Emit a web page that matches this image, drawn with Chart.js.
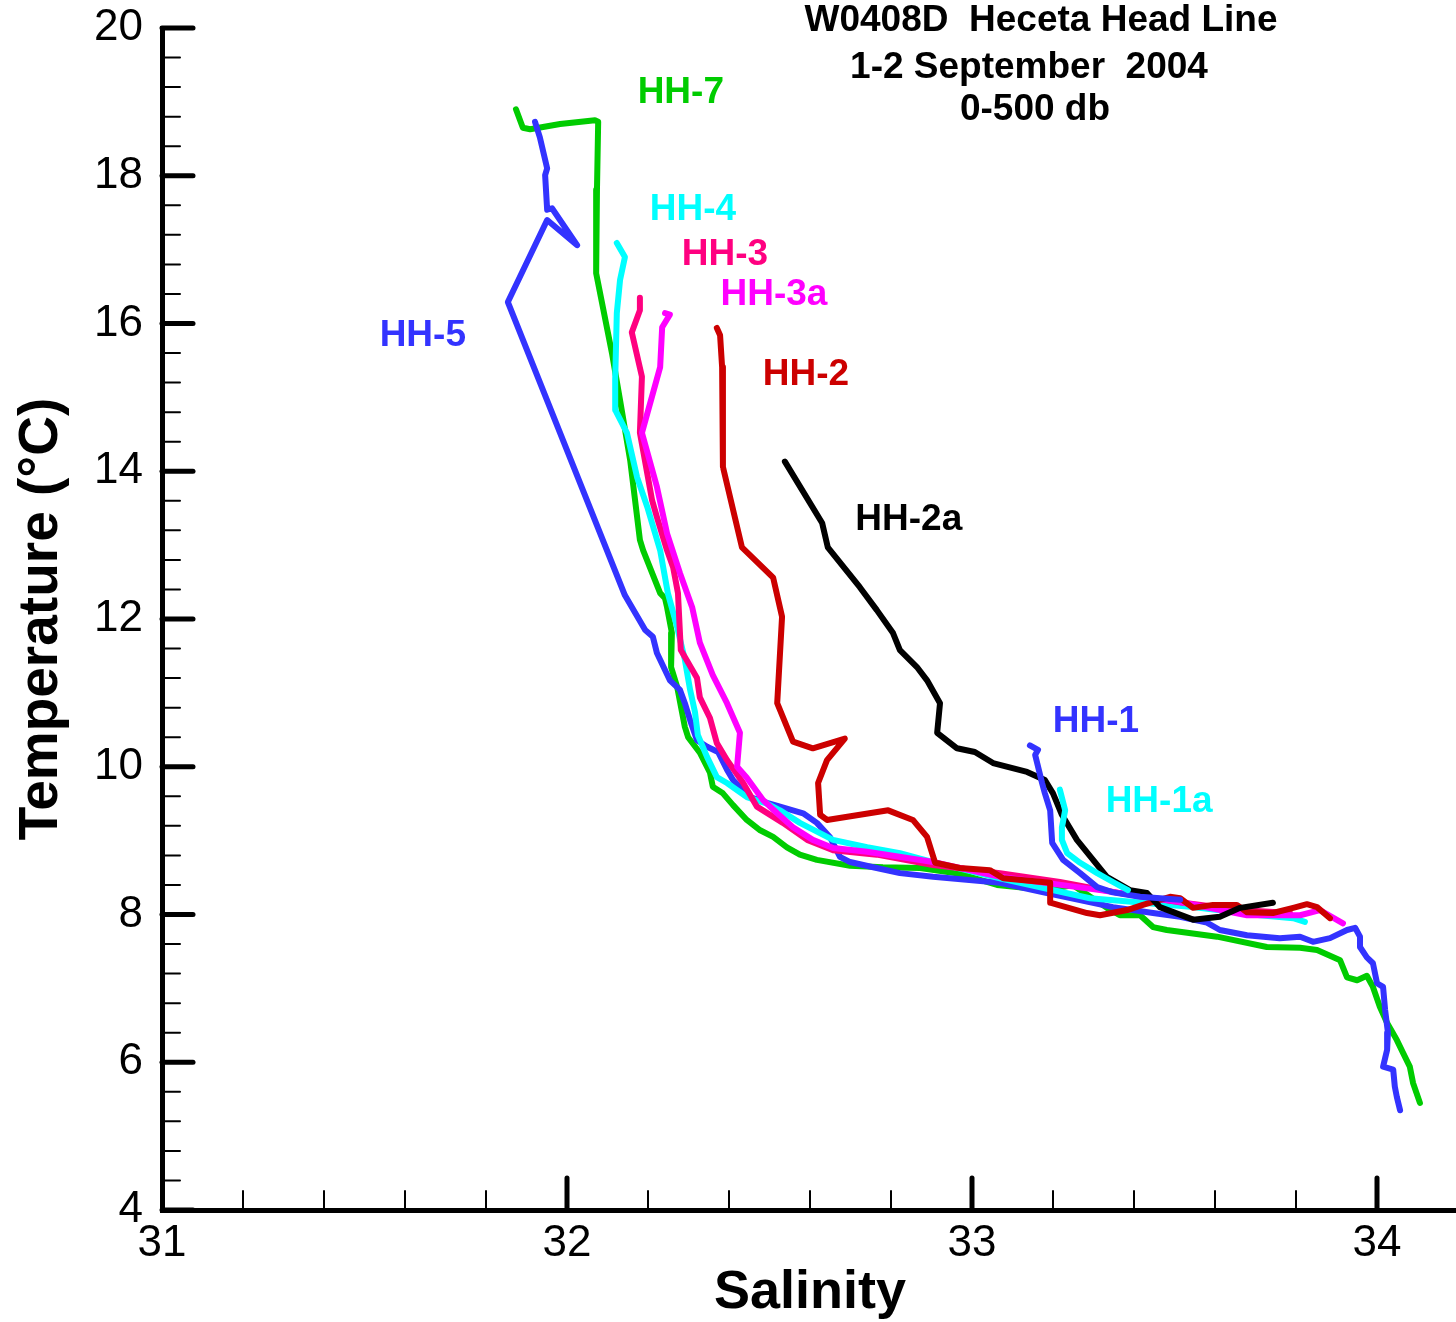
<!DOCTYPE html>
<html>
<head>
<meta charset="utf-8">
<title>W0408D Heceta Head Line T-S</title>
<script src="https://cdn.jsdelivr.net/npm/chart.js@4.4.1/dist/chart.umd.min.js"></script>
<style>
  html, body { margin: 0; padding: 0; background: #fff; overflow: hidden; }
  #wrap { width: 1462px; height: 1322px; }
</style>
</head>
<body>
<div id="wrap"><canvas id="tsChart" width="1462" height="1322"></canvas></div>
<script>
// T-S curves, 0-500 db
const salinityTicks = [31, 32, 33, 34];
const temperatureTicks = [4, 6, 8, 10, 12, 14, 16, 18, 20];

const hh7Sal = [31.874,31.891,31.909,31.983,32.069,32.077,32.074,32.072,32.111,32.131,32.156,32.180,32.188,32.230,32.242,32.247,32.259,32.257,32.272,32.291,32.299,32.328,32.353,32.360,32.385,32.410,32.444,32.477,32.509,32.543,32.575,32.617,32.699,32.780,32.872,32.970,33.062,33.185,33.249,33.267,33.333,33.365,33.415,33.447,33.481,33.605,33.728,33.810,33.852,33.909,33.926,33.951,33.975,33.990,34.007,34.025,34.049,34.064,34.081,34.089,34.106];
const hh7Temp = [18.90,18.65,18.63,18.70,18.75,18.73,17.81,16.68,15.60,14.96,14.15,13.07,12.93,12.35,12.28,12.16,11.81,11.35,11.08,10.54,10.40,10.19,9.92,9.73,9.64,9.48,9.28,9.14,9.05,8.91,8.81,8.74,8.66,8.64,8.63,8.55,8.40,8.33,8.40,8.33,8.09,7.99,7.99,7.83,7.79,7.70,7.56,7.55,7.52,7.38,7.15,7.11,7.17,7.02,6.75,6.53,6.30,6.13,5.94,5.72,5.45];

const hh5Sal = [31.921,31.933,31.951,31.946,31.951,31.963,32.025,31.951,31.854,32.143,32.193,32.212,32.222,32.254,32.279,32.291,32.304,32.321,32.346,32.373,32.395,32.410,32.452,32.494,32.526,32.583,32.617,32.649,32.674,32.699,32.756,32.822,32.904,33.069,33.185,33.348,33.447,33.514,33.580,33.612,33.679,33.760,33.810,33.842,33.884,33.926,33.946,33.958,33.958,33.975,33.990,34.000,34.015,34.020,34.027,34.025,34.015,34.040,34.044,34.049,34.057];
const hh5Temp = [18.73,18.52,18.10,18.01,17.54,17.56,17.06,17.40,16.29,12.32,11.85,11.76,11.54,11.17,11.04,10.86,10.63,10.36,10.27,10.20,9.96,9.82,9.59,9.51,9.46,9.37,9.24,9.05,8.78,8.71,8.64,8.56,8.51,8.43,8.29,8.10,8.02,7.97,7.89,7.79,7.72,7.68,7.70,7.63,7.68,7.79,7.82,7.70,7.56,7.42,7.34,7.07,7.02,6.71,6.40,6.17,5.94,5.90,5.67,5.53,5.35];

const hh4Sal = [32.123,32.143,32.131,32.123,32.119,32.119,32.148,32.173,32.198,32.230,32.249,32.272,32.291,32.304,32.316,32.323,32.346,32.370,32.395,32.444,32.494,32.526,32.575,32.657,32.741,32.822,32.904,33.069,33.291,33.546,33.711,33.793,33.822];
const hh4Temp = [17.09,16.90,16.59,16.14,15.24,14.83,14.52,13.92,13.52,12.93,12.35,11.89,11.45,11.04,10.74,10.43,10.13,9.86,9.78,9.59,9.50,9.41,9.24,9.01,8.91,8.83,8.71,8.49,8.22,8.10,7.99,7.95,7.90];

const hh3Sal = [32.180,32.180,32.160,32.185,32.180,32.210,32.222,32.247,32.262,32.274,32.281,32.321,32.328,32.353,32.370,32.395,32.435,32.469,32.533,32.593,32.657,32.765,32.904,33.069,33.217,33.365,33.521,33.662,33.785];
const hh3Temp = [16.35,16.18,15.88,15.28,14.52,13.61,13.38,12.93,12.70,12.35,11.58,11.20,10.94,10.66,10.32,10.09,9.78,9.46,9.24,9.01,8.87,8.81,8.67,8.56,8.44,8.29,8.16,8.06,8.02];

const hh3aSal = [32.242,32.254,32.235,32.230,32.185,32.222,32.247,32.279,32.309,32.328,32.360,32.395,32.427,32.420,32.444,32.484,32.519,32.558,32.607,32.657,32.741,32.904,33.069,33.316,33.514,33.679,33.810,33.859,33.916];
const hh3aTemp = [16.14,16.12,15.95,15.41,14.52,13.79,13.16,12.62,12.16,11.68,11.24,10.86,10.46,10.00,9.85,9.55,9.37,9.18,9.01,8.90,8.85,8.71,8.51,8.33,8.17,7.99,7.99,8.06,7.88];

const hh2Sal = [32.370,32.378,32.383,32.385,32.432,32.509,32.531,32.519,32.558,32.607,32.686,32.642,32.620,32.625,32.642,32.793,32.854,32.889,32.909,32.970,33.044,33.077,33.193,33.193,33.284,33.316,33.383,33.422,33.489,33.514,33.546,33.595,33.654,33.679,33.743,33.793,33.827,33.852,33.884];
const hh2Temp = [15.94,15.84,15.41,14.06,12.97,12.56,12.03,10.86,10.34,10.25,10.38,10.09,9.78,9.35,9.28,9.41,9.28,9.05,8.70,8.63,8.60,8.49,8.43,8.16,8.02,7.99,8.06,8.13,8.24,8.22,8.09,8.13,8.13,8.03,8.02,8.09,8.14,8.10,7.95];

const hh2aSal = [32.538,32.630,32.644,32.723,32.765,32.805,32.822,32.864,32.889,32.921,32.914,32.963,33.007,33.052,33.136,33.180,33.200,33.222,33.259,33.299,33.333,33.390,33.432,33.464,33.546,33.612,33.662,33.743];
const hh2aTemp = [14.13,13.30,12.97,12.43,12.12,11.81,11.58,11.35,11.17,10.86,10.46,10.25,10.20,10.05,9.93,9.82,9.64,9.35,9.01,8.74,8.51,8.33,8.29,8.10,7.93,7.97,8.09,8.16];

const hh1Sal = [33.143,33.163,33.156,33.173,33.180,33.193,33.198,33.225,33.267,33.309,33.348,33.415,33.514];
const hh1Temp = [10.29,10.23,10.16,9.78,9.64,9.41,8.97,8.74,8.56,8.37,8.30,8.24,8.20];

const hh1aSal = [33.217,33.230,33.222,33.222,33.235,33.267,33.309,33.348,33.385];
const hh1aTemp = [9.69,9.41,9.18,9.01,8.83,8.70,8.56,8.44,8.33];

// stations, listed bottom layer first
const stations = [
  { name: 'HH-7',  sal: hh7Sal,  temp: hh7Temp,  color: '#00CC00' },
  { name: 'HH-5',  sal: hh5Sal,  temp: hh5Temp,  color: '#3333FF' },
  { name: 'HH-4',  sal: hh4Sal,  temp: hh4Temp,  color: '#00FFFF' },
  { name: 'HH-3',  sal: hh3Sal,  temp: hh3Temp,  color: '#FF0080' },
  { name: 'HH-3a', sal: hh3aSal, temp: hh3aTemp, color: '#FF00FF' },
  { name: 'HH-2',  sal: hh2Sal,  temp: hh2Temp,  color: '#CC0000' },
  { name: 'HH-2a', sal: hh2aSal, temp: hh2aTemp, color: '#000000' },
  { name: 'HH-1',  sal: hh1Sal,  temp: hh1Temp,  color: '#3333FF' },
  { name: 'HH-1a', sal: hh1aSal, temp: hh1aTemp, color: '#00FFFF' },
];

// where the station names sit (salinity, temperature)
const stationLabels = [
  { text: 'HH-7',  s: 32.281, t: 19.12, color: '#00CC00' },
  { text: 'HH-4',  s: 32.311, t: 17.54, color: '#00FFFF' },
  { text: 'HH-3',  s: 32.390, t: 16.93, color: '#FF0080' },
  { text: 'HH-3a', s: 32.511, t: 16.39, color: '#FF00FF' },
  { text: 'HH-5',  s: 31.644, t: 15.84, color: '#3333FF' },
  { text: 'HH-2',  s: 32.590, t: 15.30, color: '#CC0000' },
  { text: 'HH-2a', s: 32.844, t: 13.34, color: '#000000' },
  { text: 'HH-1',  s: 33.306, t: 10.61, color: '#3333FF' },
  { text: 'HH-1a', s: 33.462, t: 9.52,  color: '#00FFFF' },
];

const titleLines = ['W0408D  Heceta Head Line', '1-2 September  2004', '0-500 db'];

const FONT = "Arial, 'Liberation Sans', Helvetica, sans-serif";
Chart.defaults.font.family = FONT;
Chart.defaults.color = '#000';

const datasets = stations.map((st, i) => ({
  label: st.name,
  data: st.sal.map((s, k) => ({ x: s, y: st.temp[k] })),
  borderColor: st.color,
  backgroundColor: st.color,
  showLine: true,
  fill: false,
  pointRadius: 0,
  borderWidth: 6,
  tension: 0,
  borderCapStyle: 'round',
  borderJoinStyle: 'round',
  order: stations.length - i, // first in list ends up underneath
}));

// tick marks point into the plot, 4 minor ticks between labels
const inwardTicks = {
  id: 'inwardTicks',
  afterDraw(chart) {
    const { ctx, chartArea, scales: { x, y } } = chart;
    ctx.save();
    ctx.strokeStyle = '#000';
    ctx.lineCap = 'round';
    for (let k = 0; k <= 40; k++) {
      const v = 4 + 0.4 * k;
      const py = y.getPixelForValue(v);
      const major = k % 5 === 0;
      ctx.lineWidth = major ? 5 : 2;
      ctx.beginPath();
      ctx.moveTo(chartArea.left, py);
      ctx.lineTo(chartArea.left + (major ? 31 : 18), py);
      ctx.stroke();
    }
    for (let k = 1; k < 16; k++) {
      const v = 31 + 0.2 * k;
      const px = x.getPixelForValue(v);
      const major = k % 5 === 0;
      ctx.lineWidth = major ? 5 : 2;
      ctx.beginPath();
      ctx.moveTo(px, chartArea.bottom);
      ctx.lineTo(px, chartArea.bottom - (major ? 32 : 19));
      ctx.stroke();
    }
    ctx.restore();
  }
};

const textLayer = {
  id: 'textLayer',
  afterDraw(chart) {
    const { ctx, scales: { x, y } } = chart;
    ctx.save();
    ctx.textAlign = 'center';
    ctx.textBaseline = 'middle';
    ctx.font = 'bold 37px ' + FONT;
    stationLabels.forEach(l => {
      ctx.fillStyle = l.color;
      ctx.fillText(l.text, x.getPixelForValue(l.s), y.getPixelForValue(l.t));
    });
    ctx.fillStyle = '#000';
    const cx = [1041, 1029, 1035];
    const cy = [21, 68, 110];
    titleLines.forEach((line, i) => ctx.fillText(line, cx[i], cy[i]));
    ctx.restore();
  }
};

const tsChart = new Chart(document.getElementById('tsChart'), {
  type: 'scatter',
  data: { datasets: datasets },
  plugins: [inwardTicks, textLayer],
  options: {
    responsive: false,
    animation: false,
    layout: { padding: { top: 28, right: 4, left: 0, bottom: 0 } },
    plugins: {
      legend: { display: false },
      tooltip: { enabled: false },
    },
    scales: {
      x: {
        type: 'linear',
        position: 'bottom',
        min: 31,
        max: 34.2,
        afterFit(s) { s.height = 112; s.paddingLeft = 0; s.paddingRight = 0; },
        afterBuildTicks(s) { s.ticks = salinityTicks.map(v => ({ value: v })); },
        grid: { display: false, drawTicks: false },
        border: { display: true, color: '#000', width: 5 },
        ticks: { padding: 7, color: '#000', font: { size: 44 }, maxRotation: 0, autoSkip: false, includeBounds: false },
        title: { display: true, text: 'Salinity', color: '#000', font: { size: 54, weight: 'bold', lineHeight: 1 }, padding: { top: 0, bottom: 2 } },
      },
      y: {
        type: 'linear',
        position: 'left',
        min: 4,
        max: 20,
        afterFit(s) { s.width = 162; s.paddingTop = 0; s.paddingBottom = 0; },
        afterBuildTicks(s) { s.ticks = temperatureTicks.map(v => ({ value: v })); },
        grid: { display: false, drawTicks: false },
        border: { display: true, color: '#000', width: 5 },
        ticks: { padding: 19, color: '#000', font: { size: 44 }, autoSkip: false },
        title: { display: true, text: 'Temperature (°C)', color: '#000', font: { size: 55, weight: 'bold', lineHeight: 1 }, padding: { top: 14, bottom: 0 } },
      },
    },
  },
});
</script>
</body>
</html>
